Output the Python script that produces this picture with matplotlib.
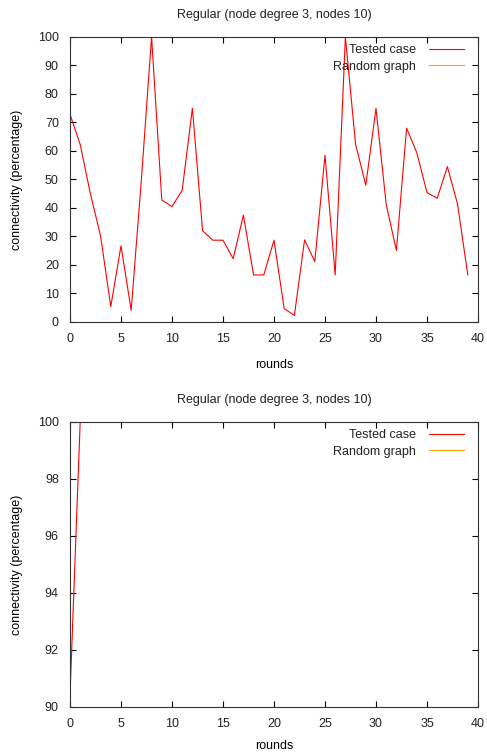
"""
Connectivity per round for a regular graph (node degree 3, 10 nodes).
"""

import matplotlib

matplotlib.use("Agg")
import matplotlib.pyplot as plt

rounds = list(range(40))
tested_case = [
    72.9, 62.3, 45.0, 30.2, 5.4, 26.7, 4.1, 50.0, 100.0, 42.8,
    40.5, 46.2, 75.0, 32.0, 28.7, 28.7, 22.2, 37.5, 16.5, 16.5,
    28.7, 4.7, 2.3, 28.8, 21.2, 58.5, 16.5, 100.0, 62.3, 48.0,
    75.0, 41.3, 25.1, 68.0, 59.4, 45.4, 43.4, 54.5, 41.3, 16.5,
]
random_rounds = []
random_graph = []

# zoomed view: only the start of the run is inside 90..100
zoom_rounds = [0, 1]
zoom_tested = [90.4, 100.0]

title = "Regular (node degree 3, nodes 10)"

plt.rcParams["font.family"] = ["Liberation Sans", "DejaVu Sans"]
plt.rcParams["font.size"] = 9
plt.rcParams["text.color"] = "#222222"
plt.rcParams["xtick.labelcolor"] = "#222222"
plt.rcParams["ytick.labelcolor"] = "#222222"

fig = plt.figure(figsize=(4.87, 7.53), dpi=100)
ax1 = fig.add_axes([0.1437, 0.5724, 0.8378, 0.3785])
ax2 = fig.add_axes([0.1437, 0.0611, 0.8378, 0.3785])


def style(ax, ylim, yticks, xlabelpad):
    ax.set_xlim(0, 40)
    ax.set_ylim(*ylim)
    ax.set_xticks(range(0, 41, 5))
    ax.set_yticks(yticks)
    ax.tick_params(direction="in", top=True, right=True, length=4, width=0.8,
                   labelsize=9)
    ax.tick_params(axis="x", pad=8)
    ax.tick_params(axis="y", pad=8)
    for sp in ax.spines.values():
        sp.set_linewidth(0.8)
        sp.set_color("#333333")
    ax.set_title(title, fontsize=9, pad=14)
    ax.set_xlabel("rounds", labelpad=xlabelpad)
    ax.set_ylabel("connectivity (percentage)", labelpad=11)
    leg = ax.legend(loc="upper right", bbox_to_anchor=(0.983, 1.0),
                    frameon=False, markerfirst=False,
                    handlelength=2.8, handletextpad=1.0, labelspacing=0.35,
                    borderaxespad=0.2, fontsize=9)
    return leg


ax1.plot(rounds, tested_case, color="#ff0000", lw=0.8, label="Tested case")
ax1.plot(random_rounds, random_graph, color="#ffa500", lw=0.8, label="Random graph")
style(ax1, (0, 100), range(0, 101, 10), 10)

ax2.plot(zoom_rounds, zoom_tested, color="#ff0000", lw=0.8, label="Tested case")
ax2.plot(random_rounds, random_graph, color="#ffa500", lw=0.8, label="Random graph")
style(ax2, (90, 100), range(90, 101, 2), 7)

fig.savefig("out.png", dpi=100)
